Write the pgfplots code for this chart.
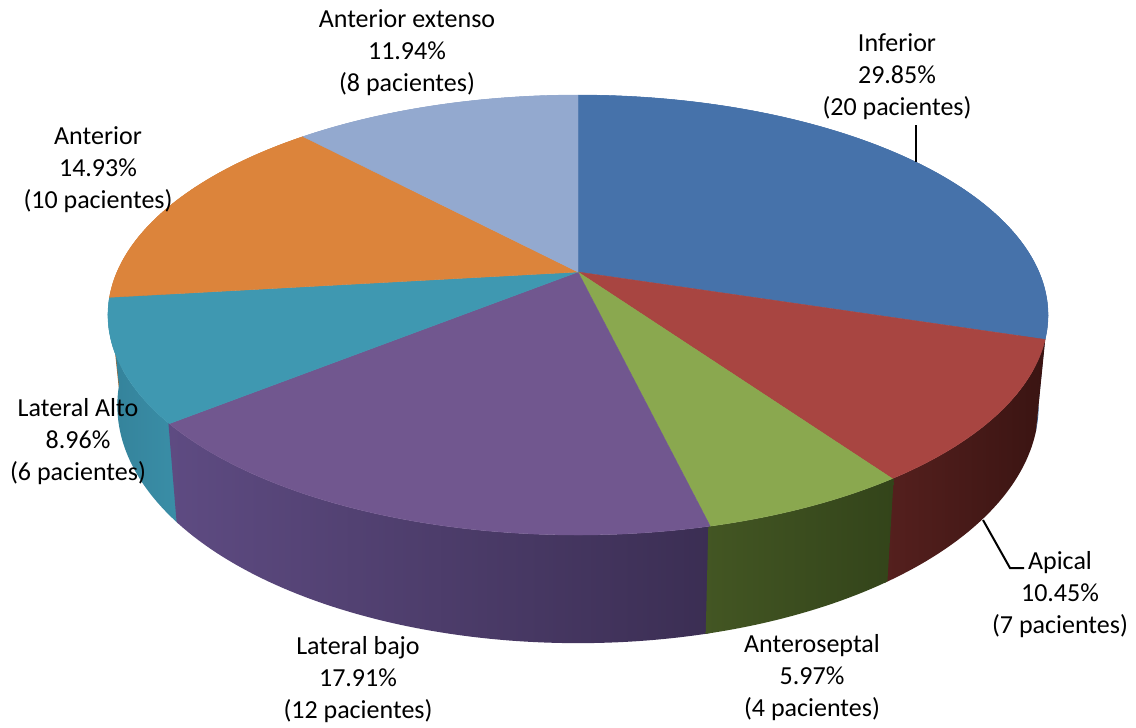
\documentclass[border=0pt]{standalone}
\usepackage{pgfplots}
\pgfplotsset{compat=1.18}
\usepackage{fontspec}
\setmainfont{Carlito}

% slice colours (top faces and walls)
\definecolor{cInf}{HTML}{4672AA}
\definecolor{cInfW}{HTML}{3A6296}
\definecolor{cApi}{HTML}{A84541}
\definecolor{cApiWL}{HTML}{55201E}
\definecolor{cApiWR}{HTML}{3A1412}
\definecolor{cAse}{HTML}{8AA84F}
\definecolor{cAseWL}{HTML}{435623}
\definecolor{cAseWR}{HTML}{33441A}
\definecolor{cLba}{HTML}{71578F}
\definecolor{cLbaWL}{HTML}{5E4B82}
\definecolor{cLbaWR}{HTML}{3B2E53}
\definecolor{cLal}{HTML}{3F98B1}
\definecolor{cLalWL}{HTML}{34829A}
\definecolor{cLalWR}{HTML}{3A8EA7}
\definecolor{cAnt}{HTML}{DC843B}
\definecolor{cAntW}{HTML}{B56A2C}
\definecolor{cAex}{HTML}{93A9CF}
\definecolor{cAexW}{HTML}{7A8FB5}

% patients per infarct location (total 67)
\def\nInf{20}\def\nApi{7}\def\nAse{4}\def\nLba{12}\def\nLal{6}\def\nAnt{10}\def\nAex{8}
\def\nTot{67}

% slice boundaries, clockwise from 12 o'clock
\pgfmathsetmacro\aA{90}
\pgfmathsetmacro\aB{\aA-360*\nInf/\nTot}
\pgfmathsetmacro\aC{\aB-360*\nApi/\nTot}
\pgfmathsetmacro\aD{\aC-360*\nAse/\nTot}
\pgfmathsetmacro\aE{\aD-360*\nLba/\nTot}
\pgfmathsetmacro\aF{\aE-360*\nLal/\nTot}
\pgfmathsetmacro\aG{\aF-360*\nAnt/\nTot}
\pgfmathsetmacro\aH{\aG-360*\nAex/\nTot}

% side wall of a slice between angles #1 and #2: top rim for s in [0,1.1),
% bottom rim (run backwards) for s in [1.1,2.2]; a small overlap hides seams
\newcommand\wall[3]{%
  \pgfmathsetmacro\wa{min(#1,#2)-0.2}\pgfmathsetmacro\wb{max(#1,#2)+0.2}%
  \addplot[#3, draw=none, domain=0:2.2, samples=221, variable=\s]
    ({(\s<1.1) ? px((\wa)+((\wb)-(\wa))*min(\s,1))
               : pbx((\wb)+((\wa)-(\wb))*max(\s-1.2,0))},
     {(\s<1.1) ? py((\wa)+((\wb)-(\wa))*min(\s,1))
               : pb((\wb)+((\wa)-(\wb))*max(\s-1.2,0))}) -- cycle;
}
% top face of a slice between angles #1 > #2
\newcommand\topface[3]{%
  \addplot[fill=#3, draw=#3, line width=0.4pt, domain=#2:#1, samples=90, variable=\t]
    ({px(\t)},{py(\t)}) -- (axis cs:578,272) -- cycle;
}

\begin{document}
\begin{tikzpicture}
\useasboundingbox (0,0) rectangle (1136pt,728pt);
\begin{axis}[
  at={(0,0)}, anchor=south west,
  scale only axis, width=1136pt, height=728pt,
  xmin=0, xmax=1136, ymin=0, ymax=728, y dir=reverse,
  hide axis, clip=false,
  declare function={
    px(\t)=578+461*cos(\t)/(1+0.1955*sin(\t));
    py(\t)=272-211.6*sin(\t)/(1+0.1955*sin(\t));
    pbx(\t)=578+0.98*461*cos(\t)/(1+0.1955*sin(\t));
    pb(\t)=py(\t)+87/(1+0.1955*sin(\t));
  },
]
% walls, back to front
\wall{\aH+360}{\aG+360}{fill=cAexW}
\wall{\aG+360}{\aF+360}{fill=cAntW}
\wall{\aA}{\aB}{fill=cInfW}
\wall{\aF}{\aE}{left color=cLalWL, right color=cLalWR}
\wall{\aB}{\aC}{left color=cApiWL, right color=cApiWR}
\wall{\aE}{\aD}{left color=cLbaWL, right color=cLbaWR}
\wall{\aD}{\aC}{left color=cAseWL, right color=cAseWR}
% top faces
\topface{\aA}{\aB}{cInf}
\topface{\aB}{\aC}{cApi}
\topface{\aC}{\aD}{cAse}
\topface{\aD}{\aE}{cLba}
\topface{\aE}{\aF}{cLal}
\topface{\aF}{\aG}{cAnt}
\topface{\aG+360}{\aH+360}{cAex}

% leader lines
\draw[line width=2pt] (axis cs:916,125) -- (axis cs:916,162);
\draw[line width=2pt] (axis cs:983,520) -- (axis cs:1010,568) -- (axis cs:1024,568);

% data labels
\tikzset{lbl/.style={align=center, inner sep=0pt, font=\fontsize{26}{32}\selectfont}}
\node[lbl] at (axis cs:897,77)  {Inferior\\29.85\%\\(20 pacientes)};
\node[lbl] at (axis cs:1060,595) {Apical\\10.45\%\\(7 pacientes)};
\node[lbl] at (axis cs:812,678) {Anteroseptal\\5.97\%\\(4 pacientes)};
\node[lbl] at (axis cs:358,680) {Lateral bajo\\17.91\%\\(12 pacientes)};
\node[lbl] at (axis cs:78,442)  {Lateral Alto\\8.96\%\\(6 pacientes)};
\node[lbl] at (axis cs:98,170)  {Anterior\\14.93\%\\(10 pacientes)};
\node[lbl] at (axis cs:407,53)  {Anterior extenso\\11.94\%\\(8 pacientes)};
\end{axis}
\end{tikzpicture}
\end{document}
